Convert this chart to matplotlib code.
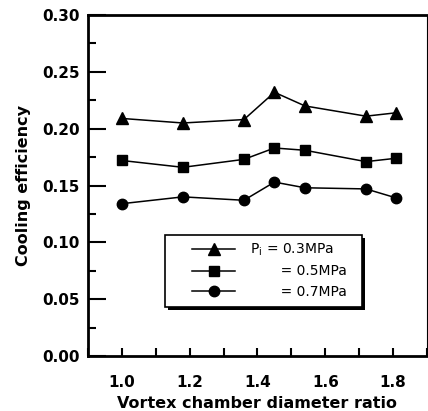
import matplotlib.pyplot as plt
from matplotlib.patches import Rectangle
from matplotlib.ticker import MultipleLocator

plt.rcParams['font.family'] = ['DejaVu Sans']

# vortex chamber diameter ratio
ratio = [1.0, 1.18, 1.36, 1.45, 1.54, 1.72, 1.81]

# cooling efficiency for each inlet pressure
eff_03 = [0.209, 0.205, 0.208, 0.232, 0.220, 0.211, 0.214]
eff_05 = [0.172, 0.166, 0.173, 0.183, 0.181, 0.171, 0.174]
eff_07 = [0.134, 0.140, 0.137, 0.153, 0.148, 0.147, 0.139]

labels = ['P$_\\mathregular{i}$ = 0.3MPa', '       = 0.5MPa', '       = 0.7MPa']

fig = plt.figure(figsize=(4.28, 4.11), dpi=100)
ax = fig.add_axes([0.2056, 0.1338, 0.792, 0.8297])

ax.plot(ratio, eff_03, color='black', lw=1.1, marker='^', ms=8.5, label=labels[0])
ax.plot(ratio, eff_05, color='black', lw=1.1, marker='s', ms=7, label=labels[1])
ax.plot(ratio, eff_07, color='black', lw=1.1, marker='o', ms=7.5, label=labels[2])

ax.set_xlim(0.9, 1.9)
ax.set_ylim(0.0, 0.30)
ax.xaxis.set_major_locator(MultipleLocator(0.2))
ax.xaxis.set_minor_locator(MultipleLocator(0.1))
ax.yaxis.set_major_locator(MultipleLocator(0.05))
ax.yaxis.set_minor_locator(MultipleLocator(0.025))
ax.xaxis.set_major_formatter(plt.FuncFormatter(lambda v, p: '%.1f' % v))
ax.yaxis.set_major_formatter(plt.FuncFormatter(lambda v, p: '%.2f' % v))

ax.tick_params(axis='both', which='both', direction='in', width=1.5, labelsize=11)
ax.tick_params(axis='y', which='major', length=13, pad=6)
ax.tick_params(axis='y', which='minor', length=6)
ax.tick_params(axis='x', which='both', length=6, pad=14)
ax.tick_params(axis='both', which='both', top=False, right=False)
for lab in ax.get_xticklabels() + ax.get_yticklabels():
    lab.set_fontweight('bold')

for side in ['left', 'bottom', 'top']:
    ax.spines[side].set_linewidth(2)
ax.spines['right'].set_linewidth(0.8)

ax.set_xlabel('Vortex chamber diameter ratio', fontsize=11.5, fontweight='bold', labelpad=4)
ax.set_ylabel('Cooling efficiency', fontsize=11.5, fontweight='bold', labelpad=8)

# legend frame with a solid black drop shadow
shadow = Rectangle((0.236, 0.135), 0.581, 0.211, transform=ax.transAxes,
                   facecolor='black', edgecolor='none', zorder=4)
frame = Rectangle((0.227, 0.144), 0.581, 0.211, transform=ax.transAxes,
                  facecolor='white', edgecolor='black', lw=1.2, zorder=5)
ax.add_patch(shadow)
ax.add_patch(frame)

leg = ax.legend(loc='upper left', bbox_to_anchor=(0.307, 0.335), borderaxespad=0,
                borderpad=0, fontsize=10, frameon=False, handlelength=3.1,
                labelspacing=0.45, handletextpad=1.1)
leg.set_zorder(6)

fig.savefig('out.png', dpi=100)
